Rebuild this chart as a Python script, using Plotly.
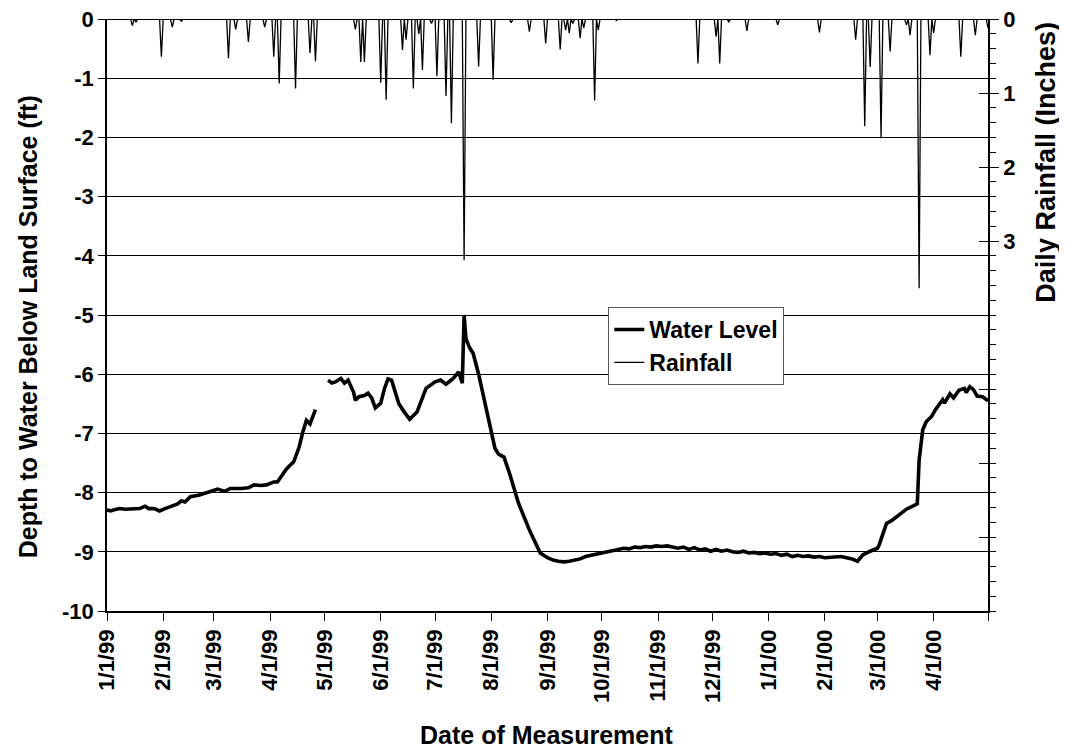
import plotly.graph_objects as go
import pandas as pd

# ---------------- data ----------------
wl_dates = [
    # Jan - Apr 1999
    "1999-01-01", "1999-01-03", "1999-01-05", "1999-01-08", "1999-01-11", "1999-01-15", "1999-01-19",
    "1999-01-22", "1999-01-24", "1999-01-27", "1999-01-30", "1999-02-02", "1999-02-06", "1999-02-09",
    "1999-02-11", "1999-02-13", "1999-02-16", "1999-02-21", "1999-02-27", "1999-03-03", "1999-03-07",
    "1999-03-10", "1999-03-16", "1999-03-20", "1999-03-23", "1999-03-27", "1999-03-30", "1999-04-03",
    "1999-04-05", "1999-04-08", "1999-04-10", "1999-04-14", "1999-04-17", "1999-04-19", "1999-04-21",
    "1999-04-23", "1999-04-26",
    # data gap
    "1999-04-30",
    # May - Aug 1999
    "1999-05-03", "1999-05-05", "1999-05-07", "1999-05-10", "1999-05-12", "1999-05-14", "1999-05-17",
    "1999-05-18", "1999-05-20", "1999-05-23", "1999-05-25", "1999-05-27", "1999-05-29",
    "1999-06-01", "1999-06-03", "1999-06-05", "1999-06-07", "1999-06-09", "1999-06-11", "1999-06-14",
    "1999-06-17", "1999-06-21", "1999-06-24", "1999-06-26",
    "1999-07-01", "1999-07-04", "1999-07-07", "1999-07-11", "1999-07-14", "1999-07-16", "1999-07-17",
    "1999-07-18", "1999-07-20", "1999-07-22", "1999-07-25", "1999-07-27", "1999-07-31",
    "1999-08-03", "1999-08-05", "1999-08-08", "1999-08-11", "1999-08-16", "1999-08-22", "1999-08-28",
    # Sep 1999 - Feb 2000
    "1999-09-01", "1999-09-04", "1999-09-07", "1999-09-10", "1999-09-13", "1999-09-16", "1999-09-19",
    "1999-09-22", "1999-09-25", "1999-09-28", "1999-10-01", "1999-10-04", "1999-10-07", "1999-10-10",
    "1999-10-13", "1999-10-16", "1999-10-19", "1999-10-22", "1999-10-25", "1999-10-28", "1999-10-31",
    "1999-11-03", "1999-11-06", "1999-11-09", "1999-11-12", "1999-11-15", "1999-11-18", "1999-11-21",
    "1999-11-24", "1999-11-27", "1999-11-30", "1999-12-03", "1999-12-06", "1999-12-09", "1999-12-12",
    "1999-12-15", "1999-12-18", "1999-12-21", "1999-12-24", "1999-12-27", "1999-12-30",
    "2000-01-02", "2000-01-05", "2000-01-08", "2000-01-11", "2000-01-14", "2000-01-17", "2000-01-20",
    "2000-01-23", "2000-01-26", "2000-01-29", "2000-02-01", "2000-02-04", "2000-02-07", "2000-02-10",
    "2000-02-13", "2000-02-16", "2000-02-19",
    # Feb - Apr 2000
    "2000-02-22", "2000-02-26", "2000-03-01", "2000-03-02", "2000-03-06", "2000-03-09", "2000-03-14",
    "2000-03-17", "2000-03-23", "2000-03-24", "2000-03-26", "2000-03-28", "2000-03-31", "2000-04-02",
    "2000-04-06", "2000-04-07", "2000-04-10", "2000-04-12", "2000-04-15", "2000-04-18", "2000-04-19",
    "2000-04-21", "2000-04-23", "2000-04-25", "2000-04-28", "2000-05-01",
]
wl_values = [
    -8.29, -8.31, -8.29, -8.27, -8.28, -8.27, -8.27,
    -8.23, -8.27, -8.27, -8.31, -8.27, -8.23, -8.19,
    -8.14, -8.16, -8.07, -8.04, -7.98, -7.94, -7.98,
    -7.93, -7.93, -7.92, -7.87, -7.88, -7.87, -7.82,
    -7.82, -7.70, -7.60, -7.48, -7.23, -6.98, -6.78,
    -6.84, -6.60,
    None,
    -6.10, -6.15, -6.13, -6.07, -6.15, -6.10, -6.30,
    -6.44, -6.38, -6.36, -6.32, -6.40, -6.57,
    -6.49, -6.25, -6.08, -6.10, -6.30, -6.50, -6.64,
    -6.76, -6.64, -6.41, -6.24,
    -6.13, -6.10, -6.17, -6.07, -5.96, -6.15, -5.00,
    -5.40, -5.55, -5.65, -6.00, -6.27, -6.83,
    -7.25, -7.35, -7.40, -7.67, -8.18, -8.63, -9.02,
    -9.10, -9.14, -9.16, -9.17, -9.16, -9.14, -9.12,
    -9.08, -9.06, -9.04, -9.02, -9.00, -8.98, -8.97,
    -8.94, -8.95, -8.92, -8.93, -8.91, -8.92, -8.90,
    -8.91, -8.90, -8.92, -8.94, -8.92, -8.96, -8.93,
    -8.97, -8.95, -8.99, -8.96, -8.99, -8.97, -9.00,
    -9.01, -8.99, -9.02, -9.01, -9.03, -9.02,
    -9.04, -9.03, -9.06, -9.04, -9.08, -9.06, -9.08,
    -9.07, -9.09, -9.08, -9.10, -9.09, -9.09, -9.08,
    -9.10, -9.12, -9.16,
    -9.05, -8.99, -8.94, -8.88, -8.52, -8.47, -8.35,
    -8.28, -8.19, -7.45, -6.94, -6.80, -6.71, -6.60,
    -6.43, -6.49, -6.33, -6.40, -6.27, -6.24, -6.31,
    -6.21, -6.26, -6.37, -6.38, -6.45,
]

rain_dates = [
    "1999-01-15", "1999-01-17", "1999-01-31", "1999-02-06", "1999-02-11", "1999-03-09", "1999-03-13",
    "1999-03-20", "1999-03-29", "1999-04-03", "1999-04-06", "1999-04-15", "1999-04-23", "1999-04-26",
    "1999-05-18", "1999-05-21", "1999-05-23", "1999-06-01", "1999-06-04", "1999-06-13", "1999-06-15",
    "1999-06-19", "1999-06-22", "1999-06-24", "1999-06-29", "1999-07-02", "1999-07-07", "1999-07-10",
    "1999-07-17", "1999-07-25", "1999-08-02", "1999-08-12", "1999-08-22", "1999-08-31", "1999-09-08",
    "1999-09-11", "1999-09-13", "1999-09-15", "1999-09-19", "1999-09-21", "1999-09-27", "1999-09-29",
    "1999-10-09", "1999-11-23", "1999-12-03", "1999-12-05", "1999-12-10", "1999-12-20", "2000-01-06",
    "2000-01-29", "2000-02-18", "2000-02-23", "2000-02-26", "2000-03-03", "2000-03-08", "2000-03-17",
    "2000-03-19", "2000-03-24", "2000-03-30", "2000-04-01", "2000-04-16", "2000-04-24", "2000-05-01",
]
rain_inches = [
    0.09, 0.04, 0.51, 0.11, 0.03, 0.53, 0.14,
    0.31, 0.11, 0.51, 0.87, 0.94, 0.46, 0.57,
    0.14, 0.58, 0.58, 0.86, 1.09, 0.42, 0.28,
    0.94, 0.20, 0.69, 0.06, 0.77, 1.04, 1.41,
    3.26, 0.64, 0.82, 0.05, 0.17, 0.33, 0.41,
    0.15, 0.19, 0.06, 0.26, 0.12, 1.10, 0.15,
    0.02, 0.60, 0.24, 0.60, 0.04, 0.16, 0.08,
    0.18, 0.28, 1.45, 0.65, 1.61, 0.44, 0.08,
    0.22, 3.64, 0.49, 0.19, 0.51, 0.22, 0.12,
]

month_ticks = [
    "1999-01-01", "1999-02-01", "1999-03-01", "1999-04-01", "1999-05-01", "1999-06-01",
    "1999-07-01", "1999-08-01", "1999-09-01", "1999-10-01", "1999-11-01", "1999-12-01",
    "2000-01-01", "2000-02-01", "2000-03-01", "2000-04-01", "2000-05-01",
]
month_labels = [
    "1/1/99", "2/1/99", "3/1/99", "4/1/99", "5/1/99", "6/1/99", "7/1/99", "8/1/99",
    "9/1/99", "10/1/99", "11/1/99", "12/1/99", "1/1/00", "2/1/00", "3/1/00", "4/1/00", "",
]
depth_ticks = [-10, -9, -8, -7, -6, -5, -4, -3, -2, -1, 0]
depth_labels = ["-10", "-9", "-8", "-7", "-6", "-5", "-4", "-3", "-2", "-1", "0"]
rain_ticks = [0, 1, 2, 3, 4, 5, 6, 7, 8]
rain_labels = ["0", "1", "2", "3", "", "", "", "", ""]
rain_minor_ticks = [i / 5 for i in range(41)]

# daily rainfall series (days without rain are zero)
days = pd.date_range("1999-01-01", "2000-05-01", freq="D")
rain_series = pd.Series(0.0, index=days)
for d, v in zip(rain_dates, rain_inches):
    rain_series[pd.Timestamp(d)] = v

FONT = "Liberation Sans, Arial, sans-serif"
TICK = 22
TITLE = 25

fig = go.Figure()
fig.add_trace(go.Scatter(
    x=wl_dates, y=wl_values, name="Water Level", mode="lines",
    line=dict(color="black", width=3.6), connectgaps=False, yaxis="y",
))
fig.add_trace(go.Scatter(
    x=rain_series.index, y=rain_series.values, name="Rainfall", mode="lines",
    line=dict(color="black", width=1.3), yaxis="y2",
))
# invisible trace so the cross-tick axis is drawn
fig.add_trace(go.Scatter(x=[None], y=[None], yaxis="y3", showlegend=False, hoverinfo="skip"))

fig.update_layout(
    width=1067, height=749,
    margin=dict(l=99, r=87, t=11, b=146, autoexpand=False),
    paper_bgcolor="white", plot_bgcolor="white",
    font=dict(family=FONT, color="black", weight="bold"),
    showlegend=True,
    legend=dict(
        x=0.569, y=0.5135, xanchor="left", yanchor="top",
        bgcolor="white", bordercolor="#555555", borderwidth=1,
        font=dict(family=FONT, size=23, color="black", weight="bold"),
        tracegroupgap=0, itemwidth=30,
    ),
    xaxis=dict(
        type="date", range=["1999-01-01", "2000-05-01"],
        tickmode="array", tickvals=month_ticks, ticktext=month_labels,
        tickangle=-90, ticks="outside", ticklen=8, tickcolor="black", tickwidth=1,
        tickfont=dict(family=FONT, size=TICK, color="black", weight="bold"),
        showline=True, linecolor="black", linewidth=1.5, showgrid=False, zeroline=False,
        ticklabeloverflow="allow", automargin=False,
    ),
    yaxis=dict(
        range=[-10, 0], tickmode="array", tickvals=depth_ticks, ticktext=depth_labels,
        ticks="outside", ticklen=7, tickcolor="black", tickwidth=1,
        tickfont=dict(family=FONT, size=TICK, color="black", weight="bold"),
        showline=True, linecolor="black", linewidth=1.5,
        showgrid=True, gridcolor="black", gridwidth=1,
        zeroline=True, zerolinecolor="black", zerolinewidth=1,
        ticklabeloverflow="allow", automargin=False,
    ),
    yaxis2=dict(
        overlaying="y", side="right", range=[8, 0],
        tickmode="array", tickvals=rain_ticks, ticktext=rain_labels,
        ticks="outside", ticklen=9, tickcolor="black", tickwidth=1,
        tickfont=dict(family=FONT, size=TICK, color="black", weight="bold"),
        minor=dict(tickmode="array", tickvals=rain_minor_ticks, ticks="outside", ticklen=6,
                   tickcolor="black", tickwidth=1, showgrid=False),
        showline=True, linecolor="black", linewidth=1.5, showgrid=False, zeroline=False,
        ticklabeloverflow="allow", automargin=False,
    ),
    yaxis3=dict(
        overlaying="y", side="right", range=[8, 0],
        tickmode="array", tickvals=rain_ticks, ticktext=rain_labels, ticks="inside", ticklen=9,
        tickcolor="black", tickwidth=1, showticklabels=False,
        showline=False, showgrid=False, zeroline=False, automargin=False,
    ),
    annotations=[
        dict(text="Depth to Water Below Land Surface (ft)", xref="paper", yref="paper",
             x=-0.0897, y=0.481, xanchor="center", yanchor="middle",
             textangle=-90, showarrow=False,
             font=dict(family=FONT, size=TITLE, color="black", weight="bold")),
        dict(text="Daily Rainfall (Inches)", xref="paper", yref="paper",
             x=1.0658, y=0.759, xanchor="center", yanchor="middle",
             textangle=-90, showarrow=False,
             font=dict(family=FONT, size=27, color="black", weight="bold")),
        dict(text="Date of Measurement", xref="paper", yref="paper",
             x=0.4994, y=-0.2095, xanchor="center", yanchor="middle", showarrow=False,
             font=dict(family=FONT, size=TITLE, color="black", weight="bold")),
    ],
)

fig.write_html("out.html")
